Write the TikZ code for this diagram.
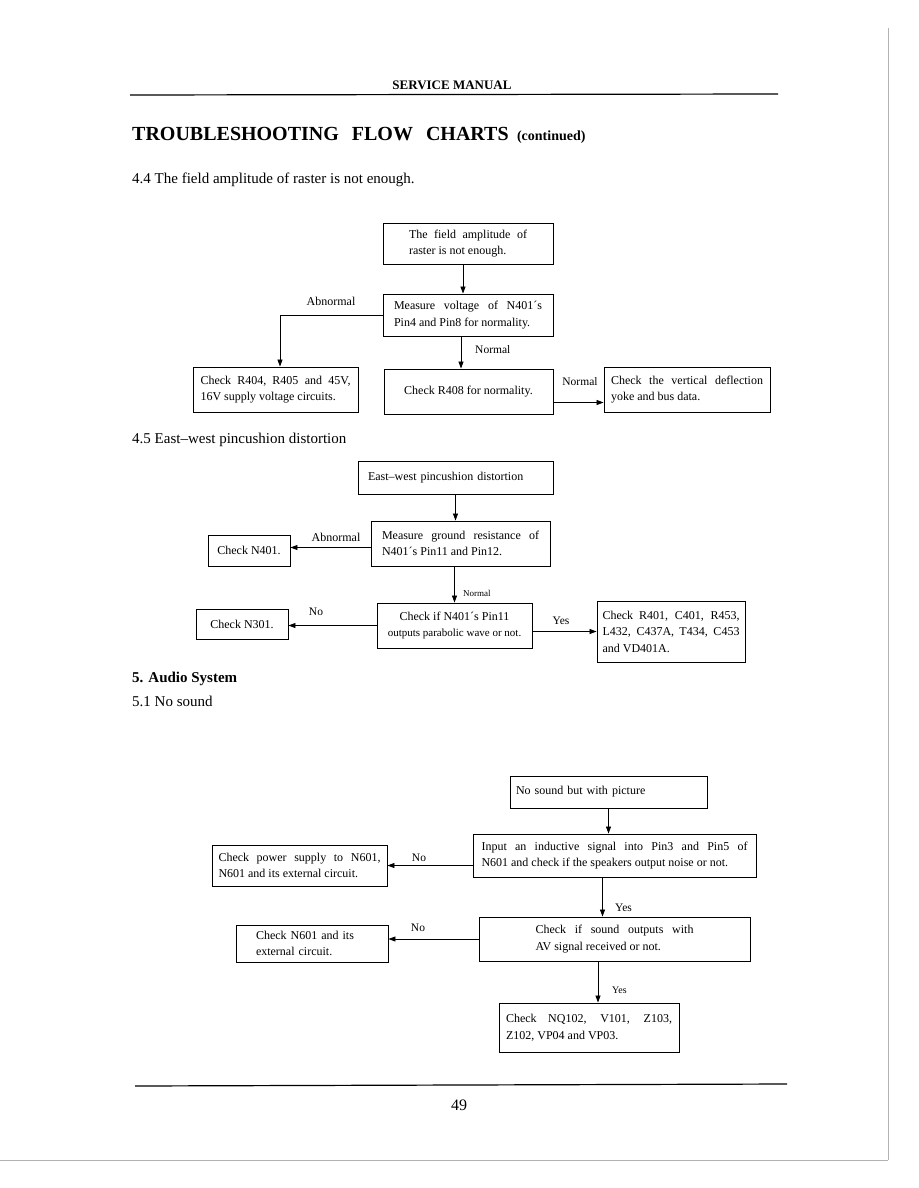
\documentclass[tikz,border=0pt]{standalone}
\usepackage{fontspec}
\setmainfont{Liberation Serif}
\usetikzlibrary{arrows.meta, positioning, calc}
\hyphenpenalty=10000
\exhyphenpenalty=10000

\begin{document}
\begin{tikzpicture}[x=1pt, y=-1pt,
        box/.style={draw, line width=0.9pt, inner sep=0pt, align=justify,
                    font=\fontsize{12}{16.5}\selectfont},
        lbl/.style={inner sep=0pt, font=\fontsize{11.5}{13}\selectfont},
        arr/.style={-{Triangle[length=7pt,width=5pt]}, line width=0.8pt},
        sect/.style={anchor=base west, inner sep=0pt, font=\fontsize{15}{17}\selectfont},
        pageedge/.style={black!30, line width=0.8pt}
      ]
        \fill[white] (0,0) rectangle (918,1188);
        \useasboundingbox (0,0) rectangle (918,1188);
        \draw[pageedge] (888,28) -- (888,1160);
        \draw[pageedge] (0,1160) -- (888,1160);

        \node[font=\bfseries\fontsize{13}{15}\selectfont] (head) at (452,85) {SERVICE MANUAL};
        \draw[line width=1.2pt] (130,95) -- (778,94);
        \node[anchor=base west, inner sep=0pt, font=\bfseries\fontsize{20}{22}\selectfont]
          (title) at (132,140) {TROUBLESHOOTING\hspace{0.4em} FLOW\hspace{0.4em} CHARTS};
        \node[anchor=base west, inner sep=0pt, font=\bfseries\fontsize{14}{16}\selectfont]
          (cont) at ([xshift=8pt]title.base east) {(continued)};

        \node[sect] (s44) at (132,183) {4.4 The field amplitude of raster is not enough.};
        \node[box, minimum width=170pt, minimum height=41pt, text width=118pt] (field) at (468,243.5)
          {The field amplitude of\linebreak raster is not enough.};
        \node[box, minimum width=170pt, minimum height=42pt, text width=148pt] (volt) at (468,315)
          {Measure voltage of N401´s\linebreak Pin4 and Pin8 for normality.};
        \node[box, minimum width=165pt, minimum height=45pt, text width=150pt] (supply) at (275.5,389.5)
          {Check R404,\enspace R405 and 45V,\linebreak 16V supply voltage circuits.};
        \node[box, minimum width=169pt, minimum height=45pt, align=center] (r408) at (468.5,391.5)
          {Check R408 for normality.};
        \node[box, minimum width=166pt, minimum height=45pt, text width=152pt] (yoke) at (687,389.5)
          {Check the vertical deflection\linebreak yoke and bus data.};
        \node[lbl, font=\fontsize{12}{14}\selectfont] (ab1) at (331,301) {Abnormal};
        \node[lbl, anchor=west] (nm1) at (475,350) {Normal};
        \node[lbl] (nm2) at (580,382) {Normal};

        \draw[arr] ([xshift=-5pt]field.south) -- ([xshift=-5pt]field.south |- volt.north);
        \draw[arr] (volt.west) -| ([xshift=4.5pt]supply.north);
        \draw[arr] ([xshift=-7pt]volt.south) -- ([xshift=-7pt]volt.south |- r408.north);
        \draw[arr] ([yshift=-11pt]r408.east) -- ([yshift=-11pt]r408.east -| yoke.west);

        \node[sect] (s45) at (132,443) {4.5 East--west pincushion distortion};
        \node[box, minimum width=195pt, minimum height=33pt, text width=175pt, align=left] (ew) at (455.5,477.5)
          {East--west pincushion distortion};
        \node[box, minimum width=179pt, minimum height=45pt, text width=157pt] (meas) at (460.5,543.5)
          {Measure ground resistance of\linebreak N401´s Pin11 and Pin12.};
        \node[box, minimum width=82pt, minimum height=31pt, align=center] (n401) at (249,550.5)
          {Check N401.};
        \node[box, minimum width=155pt, minimum height=45pt, align=center] (chkif) at (454.5,625.5)
          {Check if N401´s Pin11\\ {\fontsize{11}{14}\selectfont outputs parabolic wave or not.}};
        \node[box, minimum width=92pt, minimum height=30pt, align=center] (n301) at (242,624)
          {Check N301.};
        \node[box, minimum width=148pt, minimum height=61pt, text width=137pt] (r401) at (671,631.5)
          {Check R401, C401, R453,\linebreak L432, C437A, T434, C453\linebreak and VD401A.};
        \node[lbl, font=\fontsize{12}{14}\selectfont] (ab2) at (336,537) {Abnormal};
        \node[lbl, anchor=west, font=\fontsize{9}{11}\selectfont] (nm3) at (463,593) {Normal};
        \node[lbl] (no1) at (316,612) {No};
        \node[lbl] (ys1) at (561,621) {Yes};

        \draw[arr] (ew.south) -- (ew.south |- meas.north);
        \draw[arr] ([yshift=-4pt]meas.west) -- ([yshift=-4pt]meas.west -| n401.east);
        \draw[arr] (meas.south -| chkif.north) -- (chkif.north);
        \draw[arr] (chkif.west) -- (chkif.west -| n301.east);
        \draw[arr] (chkif.east |- r401.west) -- (r401.west);

        \node[sect, font=\bfseries\fontsize{15}{17}\selectfont] (s5) at (132,682) {5. Audio System};
        \node[sect] (s51) at (132,706) {5.1 No sound};
        \node[box, minimum width=197pt, minimum height=32pt, text width=185pt, align=left] (nosnd) at (608.5,792)
          {No sound but with picture};
        \node[box, minimum width=283pt, minimum height=43pt, text width=266pt] (input) at (614.5,855.5)
          {Input an inductive signal into Pin3 and Pin5 of\linebreak N601 and check if the speakers output noise or not.};
        \node[box, minimum width=175pt, minimum height=41pt, text width=162pt] (power) at (299.5,865.5)
          {Check power supply to N601,\linebreak N601 and its external circuit.};
        \node[box, minimum width=271pt, minimum height=44pt, text width=158pt] (sound) at (614.5,939)
          {Check if sound outputs with\linebreak AV signal received or not.};
        \node[box, minimum width=152pt, minimum height=37pt, text width=112pt, align=left] (n601) at (312,943.5)
          {Check N601 and its\\ external circuit.};
        \node[box, minimum width=180pt, minimum height=49pt, text width=166pt] (nq) at (589,1027.5)
          {Check NQ102, V101, Z103,\linebreak Z102, VP04 and VP03.};
        \node[lbl] (no2) at (419,858) {No};
        \node[lbl, anchor=west] (ys2) at (615,908) {Yes};
        \node[lbl] (no3) at (418,928) {No};
        \node[lbl, anchor=west, font=\fontsize{10}{12}\selectfont] (ys3) at (612,990) {Yes};

        \draw[arr] (nosnd.south) -- (nosnd.south |- input.north);
        \draw[arr] (input.west |- power.east) -- (power.east);
        \draw[arr] ([xshift=-12pt]input.south) -- ([xshift=-12pt]input.south |- sound.north);
        \draw[arr] (sound.west) -- (sound.west -| n601.east);
        \draw[arr] ([xshift=9pt]nq.north |- sound.south) -- ([xshift=9pt]nq.north);

        \draw[line width=1.2pt] (135,1086) -- (787,1084);
        \node[font=\fontsize{16}{18}\selectfont] (page) at (459,1105) {49};
      \end{tikzpicture}
\end{document}
